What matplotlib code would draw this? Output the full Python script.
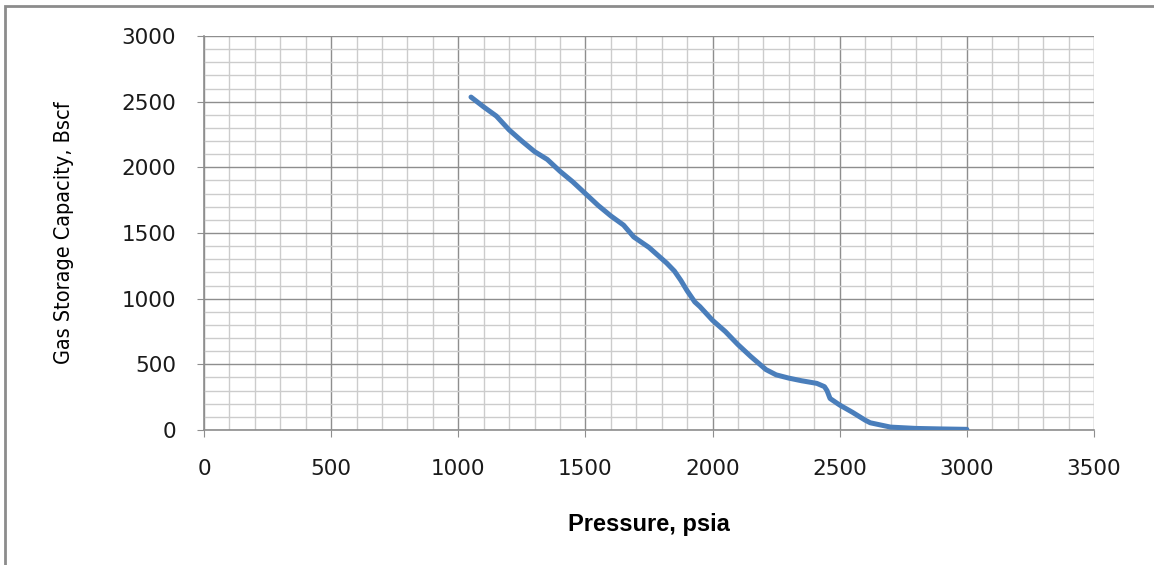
import matplotlib.pyplot as plt
from matplotlib.ticker import MultipleLocator

# pressure (psia) vs gas storage capacity (Bscf)
pressure = [1050, 1100, 1150, 1200, 1250, 1300, 1350, 1400, 1450, 1500,
            1550, 1600, 1650, 1690, 1750, 1820, 1850, 1875, 1900, 1930,
            1950, 2000, 2050, 2100, 2150, 2210, 2250, 2300, 2350, 2410,
            2440, 2450, 2462, 2500, 2550, 2600, 2620, 2700, 2800, 2900, 3000]
capacity = [2535, 2460, 2390, 2285, 2200, 2120, 2060, 1970, 1890, 1800,
            1710, 1630, 1560, 1470, 1390, 1270, 1210, 1140, 1060, 975,
            940, 835, 750, 650, 560, 460, 420, 395, 375, 355,
            330, 300, 240, 190, 135, 75, 55, 22, 12, 8, 5]

fig = plt.figure(figsize=(11.54, 5.65), dpi=100)
# outer chart border (only left and top visible in the crop)
fig.patches.append(plt.Rectangle((5/1154, -0.1), 1.2, 1.1 - 6/565,
                                 transform=fig.transFigure, fill=False,
                                 edgecolor='#8c8c8c', linewidth=2, zorder=0))

ax = fig.add_axes([204/1154, 1 - 430/565, 890/1154, 394/565])
ax.plot(pressure, capacity, color='#4a7ebb', linewidth=3.6,
        solid_capstyle='round', zorder=3)

ax.set_xlim(0, 3500)
ax.set_ylim(0, 3000)
ax.xaxis.set_major_locator(MultipleLocator(500))
ax.yaxis.set_major_locator(MultipleLocator(500))
ax.xaxis.set_minor_locator(MultipleLocator(100))
ax.yaxis.set_minor_locator(MultipleLocator(100))
ax.grid(which='major', color='#8e8e8e', linewidth=1.0)
ax.grid(which='minor', color='#cccccc', linewidth=1.0)
ax.set_axisbelow(True)

for s in ['top', 'right']:
    ax.spines[s].set_visible(False)
for s in ['left', 'bottom']:
    ax.spines[s].set_color('#8e8e8e')
    ax.spines[s].set_linewidth(1.2)

ax.tick_params(which='major', length=5, color='#8e8e8e', labelsize=15.5,
               labelcolor='#1a1a1a')
ax.tick_params(axis='x', pad=16)
ax.tick_params(axis='y', pad=15)
ax.tick_params(which='minor', length=0)

ax.set_xlabel('Pressure, psia', fontsize=17, fontweight='bold',
              family=['Liberation Sans', 'DejaVu Sans'], labelpad=24)
ax.set_ylabel('Gas Storage Capacity, Bscf', fontsize=15.5,
              family='DejaVu Sans', fontstretch='condensed', labelpad=34)

fig.savefig('out.png', dpi=100)
